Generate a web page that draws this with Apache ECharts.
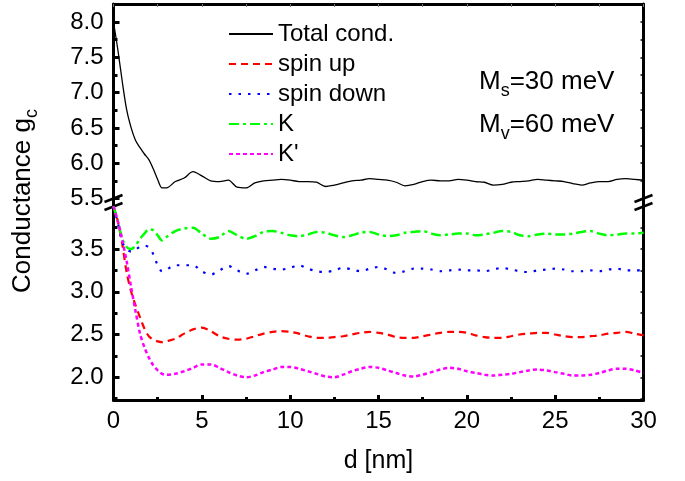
<!DOCTYPE html>
<html lang="en">
<head>
<meta charset="UTF-8">
<title>Conductance</title>
<script src="https://cdn.jsdelivr.net/npm/echarts@6.0.0/dist/echarts.min.js"></script>
</head>
<body style="margin:0;background:#fff">
<div id="main" style="width:685px;height:481px;"></div>
<script type="text/javascript">
    // d [nm]
    var dNm = [0, 0.25, 0.5, 0.75, 1, 1.25, 1.5, 1.75, 2, 2.25, 2.5, 2.75, 3,
        3.5, 4, 4.5, 5, 5.5, 6, 6.5, 7, 7.5, 8, 8.5, 9, 9.5, 10, 10.5, 11, 11.5, 12, 12.5,
        13, 13.5, 14, 14.5, 15, 15.5, 16, 16.5, 17, 17.5, 18, 18.5, 19, 19.5, 20, 20.5,
        21, 21.5, 22, 22.5, 23, 23.5, 24, 24.5, 25, 25.5, 26, 26.5, 27, 27.5, 28, 28.5,
        29, 29.5, 30];

    var totalCond = [8.0, 7.6, 7.15, 6.75, 6.5, 6.32, 6.22, 6.13, 6.05, 5.92, 5.77, 5.65, 5.65,
        5.74, 5.79, 5.88, 5.82, 5.75, 5.74, 5.76, 5.66, 5.65, 5.72, 5.75, 5.76, 5.77, 5.76, 5.74, 5.74, 5.73, 5.67, 5.69,
        5.72, 5.75, 5.76, 5.78, 5.77, 5.76, 5.73, 5.68, 5.70, 5.74, 5.76, 5.75, 5.75, 5.77, 5.76, 5.74,
        5.73, 5.69, 5.70, 5.73, 5.74, 5.75, 5.77, 5.76, 5.75, 5.74, 5.71, 5.69, 5.72, 5.74, 5.74, 5.77,
        5.78, 5.77, 5.76];

    var spinUp = [4.0, 3.82, 3.55, 3.22, 3.0, 2.84, 2.7, 2.57, 2.48, 2.44, 2.42, 2.41, 2.42,
        2.45, 2.51, 2.56, 2.58, 2.54, 2.48, 2.45, 2.44, 2.45, 2.48, 2.51, 2.53, 2.54, 2.53, 2.51, 2.48, 2.46, 2.46, 2.47,
        2.48, 2.50, 2.52, 2.53, 2.52, 2.50, 2.47, 2.46, 2.46, 2.48, 2.50, 2.52, 2.53, 2.53, 2.52, 2.49,
        2.47, 2.46, 2.46, 2.48, 2.50, 2.51, 2.52, 2.52, 2.50, 2.48, 2.47, 2.47, 2.48, 2.49, 2.51, 2.52,
        2.53, 2.51, 2.49];

    var spinDown = [4.0, 3.8, 3.58, 3.5, 3.47, 3.49, 3.53, 3.54, 3.52, 3.44, 3.31, 3.24, 3.26,
        3.31, 3.31, 3.31, 3.24, 3.20, 3.25, 3.30, 3.25, 3.21, 3.25, 3.29, 3.27, 3.26, 3.28, 3.31, 3.27, 3.24, 3.23, 3.25,
        3.28, 3.26, 3.24, 3.27, 3.29, 3.26, 3.22, 3.24, 3.27, 3.27, 3.26, 3.24, 3.25, 3.26, 3.25, 3.25,
        3.24, 3.26, 3.28, 3.26, 3.24, 3.23, 3.25, 3.26, 3.27, 3.26, 3.24, 3.24, 3.25, 3.24, 3.26, 3.27,
        3.25, 3.25, 3.25];

    var valleyK = [4.0, 3.82, 3.62, 3.52, 3.5, 3.54, 3.62, 3.68, 3.73, 3.72, 3.66, 3.60, 3.64,
        3.71, 3.74, 3.75, 3.68, 3.62, 3.64, 3.71, 3.66, 3.62, 3.65, 3.70, 3.71, 3.69, 3.66, 3.65, 3.67, 3.70, 3.69, 3.66,
        3.64, 3.66, 3.69, 3.70, 3.67, 3.65, 3.66, 3.69, 3.70, 3.71, 3.68, 3.66, 3.67, 3.68, 3.68, 3.66,
        3.67, 3.69, 3.71, 3.70, 3.66, 3.65, 3.67, 3.68, 3.67, 3.67, 3.68, 3.70, 3.71, 3.68, 3.66, 3.67,
        3.68, 3.68, 3.69];

    var valleyK2 = [4.0, 3.82, 3.6, 3.35, 3.05, 2.77, 2.51, 2.35, 2.23, 2.14, 2.08, 2.04, 2.03,
        2.04, 2.07, 2.11, 2.15, 2.15, 2.11, 2.06, 2.02, 2.00, 2.02, 2.06, 2.09, 2.12, 2.12, 2.10, 2.07, 2.04, 2.01, 2.00,
        2.03, 2.07, 2.10, 2.12, 2.11, 2.08, 2.05, 2.02, 2.01, 2.03, 2.06, 2.09, 2.11, 2.10, 2.07, 2.05,
        2.03, 2.02, 2.03, 2.04, 2.06, 2.08, 2.09, 2.08, 2.06, 2.04, 2.02, 2.02, 2.03, 2.05, 2.08, 2.10,
        2.10, 2.08, 2.05];

    // tick values
    var upMajor = [5.5, 6.0, 6.5, 7.0, 7.5, 8.0];
    var upMinor = [5.75, 6.25, 6.75, 7.25, 7.75, 8.25];
    var upQuarter = [5.5, 5.75, 6.0, 6.25, 6.5, 6.75, 7.0, 7.25, 7.5, 7.75, 8.0, 8.25];
    var lowMajor = [2.0, 2.5, 3.0, 3.5];
    var lowMinor = [1.75, 2.25, 2.75, 3.25, 3.75];
    var lowQuarter = [1.75, 2.0, 2.25, 2.5, 2.75, 3.0, 3.25, 3.5, 3.75];

    // 轴的范围 (断轴上下两段)
    var upMin = 5.436, upMax = 8.255;
    var lowMin = 1.734, lowMax = 4.038;

    var gLeft = 113.5, gRight = 41.5, gTop = 4, breakY = 203, gBottom = 81;
    var FONT = 'Liberation Sans, Arial, sans-serif';

    function pairs(ys) {
        return dNm.map(function (d, i) { return [d, ys[i]]; });
    }

    function fmt(v) { return v.toFixed(1); }

    var axisLine3 = {show: true, onZero: false, lineStyle: {color: '#000', width: 3}};

    function yMajor(grid, min, max, ticks, pos) {
        return {
            gridIndex: grid, type: 'value', min: min, max: max, position: pos,
            axisLine: axisLine3,
            axisTick: {show: true, inside: true, length: 6, customValues: ticks, lineStyle: {color: '#000', width: 3}},
            axisLabel: {show: true, customValues: ticks, formatter: fmt, margin: 10, color: '#000', fontSize: 24, fontFamily: FONT},
            splitLine: {show: false}
        };
    }

    function yMinor(grid, min, max, ticks, pos, len, w) {
        return {
            gridIndex: grid, type: 'value', min: min, max: max, position: pos,
            axisLine: {show: pos === 'right', onZero: false, lineStyle: {color: '#000', width: 3}},
            axisTick: {show: true, inside: true, length: len, customValues: ticks, lineStyle: {color: '#000', width: w}},
            axisLabel: {show: false},
            splitLine: {show: false}
        };
    }

    // 断轴标记
    function breakMark(x, y) {
        return {
            type: 'group', x: x, y: y, z: 100,
            children: [
                {type: 'polygon', shape: {points: [[-9, -0.5], [9, -7.5], [9, 0.5], [-9, 7.5]]}, style: {fill: '#fff'}},
                {type: 'line', shape: {x1: -9, y1: -0.5, x2: 9, y2: -7.5}, style: {stroke: '#000', lineWidth: 2.5}},
                {type: 'line', shape: {x1: -9, y1: 7.5, x2: 9, y2: 0.5}, style: {stroke: '#000', lineWidth: 2.5}}
            ]
        };
    }

    var richMain = {fontSize: 26, fontFamily: FONT, color: '#000', lineHeight: 26, verticalAlign: 'top'};
    var richSub = {fontSize: 18, fontFamily: FONT, color: '#000', lineHeight: 18, verticalAlign: 'top', padding: [13, 0, 0, 0]};

    var option = {
        animation: false,
        backgroundColor: '#fff',
        grid: [
            {left: gLeft, right: gRight, top: gTop, height: breakY - gTop},
            {left: gLeft, right: gRight, top: breakY, bottom: gBottom}
        ],
        legend: {
            orient: 'vertical', left: 223, top: 17,
            itemWidth: 44, itemHeight: 14, itemGap: 6,
            itemStyle: {opacity: 0},
            textStyle: {fontSize: 24, color: '#000', fontFamily: FONT},
            data: ['Total cond.', 'spin up', 'spin down', 'K', "K'"]
        },
        xAxis: [
            {
                gridIndex: 0, type: 'value', min: 0, max: 30, interval: 2.5, position: 'top',
                axisLine: axisLine3,
                axisTick: {show: true, inside: true, length: 3, lineStyle: {color: '#777', width: 1}},
                axisLabel: {show: false},
                splitLine: {show: false}
            },
            {
                gridIndex: 1, type: 'value', min: 0, max: 30, interval: 5, position: 'bottom',
                axisLine: axisLine3,
                axisTick: {show: true, inside: true, length: 5, lineStyle: {color: '#000', width: 3}},
                minorTick: {show: true, splitNumber: 2, length: 3, lineStyle: {color: '#000', width: 3}},
                axisLabel: {margin: 9, color: '#000', fontSize: 24, fontFamily: FONT},
                splitLine: {show: false},
                name: 'd [nm]', nameLocation: 'middle', nameGap: 49,
                nameTextStyle: {fontSize: 25, color: '#000', fontFamily: FONT}
            }
        ],
        yAxis: [
            yMajor(0, upMin, upMax, upMajor, 'left'),
            yMinor(0, upMin, upMax, upMinor, 'left', 4, 3),
            yMinor(0, upMin, upMax, upQuarter, 'right', 3, 1.5),
            yMajor(1, lowMin, lowMax, lowMajor, 'left'),
            yMinor(1, lowMin, lowMax, lowMinor, 'left', 4, 3),
            yMinor(1, lowMin, lowMax, lowQuarter, 'right', 3, 1.5)
        ],
        series: [
            {
                name: 'Total cond.', type: 'line', xAxisIndex: 0, yAxisIndex: 0,
                data: pairs(totalCond), symbol: 'none', smooth: 0.3, color: '#000',
                lineStyle: {color: '#000', width: 1.3}
            },
            {
                name: 'spin up', type: 'line', xAxisIndex: 1, yAxisIndex: 3,
                data: pairs(spinUp), symbol: 'none', smooth: 0.3, color: '#ff0000',
                lineStyle: {color: '#ff0000', width: 2.2, type: [7, 5]}
            },
            {
                name: 'spin down', type: 'line', xAxisIndex: 1, yAxisIndex: 3,
                data: pairs(spinDown), symbol: 'none', smooth: 0.3, color: '#0000ff',
                lineStyle: {color: '#0000ff', width: 2.2, type: [2.5, 7]}
            },
            {
                name: 'K', type: 'line', xAxisIndex: 1, yAxisIndex: 3,
                data: pairs(valleyK), symbol: 'none', smooth: 0.3, color: '#00ff00',
                lineStyle: {color: '#00ff00', width: 2.5, type: [10, 4, 3, 4]}
            },
            {
                name: "K'", type: 'line', xAxisIndex: 1, yAxisIndex: 3,
                data: pairs(valleyK2), symbol: 'none', smooth: 0.3, color: '#ff00ff',
                lineStyle: {color: '#ff00ff', width: 2.5, type: [4, 3]}
            }
        ],
        graphic: [
            breakMark(gLeft, 202.5),
            breakMark(685 - gRight, 202.5),
            {
                type: 'text', x: 479, y: 69, z: 100,
                style: {text: '{m|M}{s|s}{m|=30 meV}', rich: {m: richMain, s: richSub}}
            },
            {
                type: 'text', x: 479, y: 112, z: 100,
                style: {text: '{m|M}{s|v}{m|=60 meV}', rich: {m: richMain, s: richSub}}
            },
            {
                type: 'text', x: 23, y: 201, rotation: Math.PI / 2, z: 100,
                style: {
                    text: '{m|Conductance g}{s|c}', align: 'center', verticalAlign: 'middle',
                    rich: {m: richMain, s: richSub}
                }
            }
        ]
    };

    var myChart = echarts.init(document.getElementById('main'));
    myChart.setOption(option);
</script>
</body>
</html>
